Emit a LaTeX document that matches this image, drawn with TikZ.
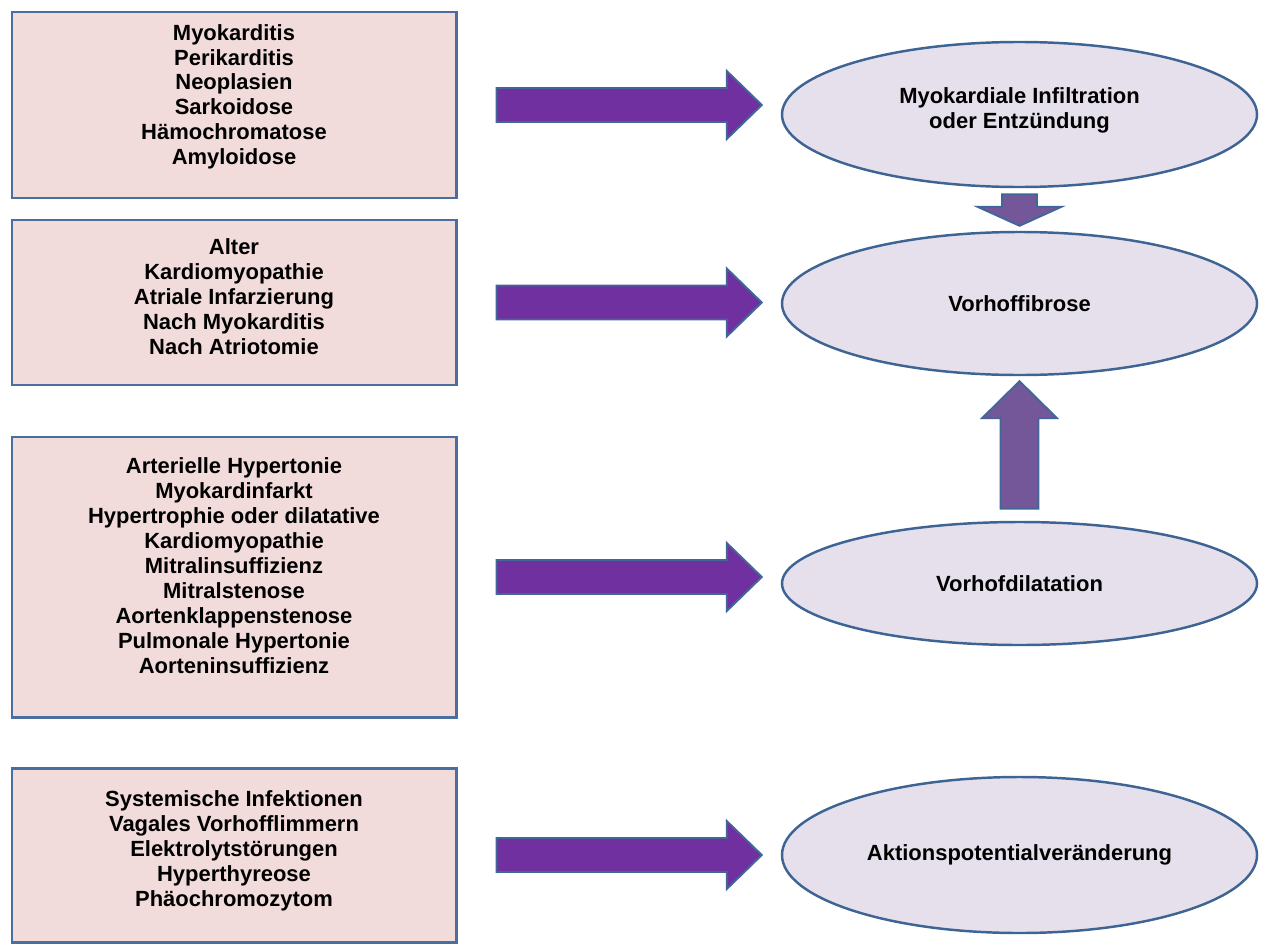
\documentclass[tikz,border=0pt]{standalone}
\usepackage{fontspec}
\setmainfont{Liberation Sans}
\usetikzlibrary{shapes.geometric,calc}
\definecolor{kastenrand}{HTML}{4A6EA0}
\definecolor{kastenfill}{HTML}{F2DCDB}
\definecolor{ovalrand}{HTML}{3E6494}
\definecolor{ovalfill}{HTML}{E6E0EC}
\definecolor{pfeilrand}{HTML}{41679A}
\definecolor{violett}{HTML}{7030A0}
\definecolor{lila}{HTML}{735799}
\newcommand\schrift{\fontsize{12.5}{14.2}\selectfont\bfseries}

\begin{document}
\begin{tikzpicture}
    [kasten/.style={rectangle, draw=kastenrand, line width=1.7pt, fill=kastenfill,
        minimum width=8.88cm, inner sep=0pt, align=center, font=\schrift},
     oval/.style={ellipse, draw=ovalrand, line width=1.4pt, fill=ovalfill,
        minimum width=9.5cm, inner sep=0pt, align=center, font=\schrift},
     schaft/.store in=\pfSchaft, kopf/.store in=\pfKopf, kopflang/.store in=\pfLang,
     pfeil/.style={draw=pfeilrand, line width=1.1pt, to path={
        ($(\tikztotarget)!\pfLang!(\tikztostart)$) coordinate (pk)
        ($(\tikztostart)!\pfSchaft!90:(\tikztotarget)$)
        -- ($(pk)!\pfSchaft!90:(\tikztotarget)$)
        -- ($(pk)!\pfKopf!90:(\tikztotarget)$)
        -- (\tikztotarget)
        -- ($(pk)!\pfKopf!-90:(\tikztotarget)$)
        -- ($(pk)!\pfSchaft!-90:(\tikztotarget)$)
        -- ($(\tikztostart)!\pfSchaft!-90:(\tikztotarget)$) -- cycle}},
     hpfeil/.style={pfeil, fill=violett, schaft=0.34cm, kopf=0.68cm, kopflang=0.70cm}]
    \useasboundingbox (0,0) rectangle (25.24,-18.88);

    % linke Spalte: Ursachen
    \node[kasten, minimum height=3.72cm, text depth=0.42cm] (ursachen1) at (4.68,-2.10)
        {Myokarditis\\Perikarditis\\Neoplasien\\Sarkoidose\\Hämochromatose\\Amyloidose};
    \node[kasten, minimum height=3.30cm, text depth=0.24cm] (ursachen2) at (4.68,-6.05)
        {Alter\\Kardiomyopathie\\Atriale Infarzierung\\Nach Myokarditis\\Nach Atriotomie};
    \node[kasten, minimum height=5.60cm, text depth=0.46cm] (ursachen3) at (4.68,-11.54)
        {Arterielle Hypertonie\\Myokardinfarkt\\Hypertrophie oder dilatative\\Kardiomyopathie\\Mitralinsuffizienz\\Mitralstenose\\Aortenklappenstenose\\Pulmonale Hypertonie\\Aorteninsuffizienz};
    \node[kasten, minimum height=3.48cm, text depth=0.26cm] (ursachen4) at (4.68,-17.10)
        {Systemische Infektionen\\Vagales Vorhofflimmern\\Elektrolytstörungen\\Hyperthyreose\\Phäochromozytom};

    % rechte Spalte: Folgen
    \node[oval, minimum height=2.90cm, text depth=0.26cm] (infiltration) at (20.39,-2.29)
        {Myokardiale Infiltration\\oder Entzündung};
    \node[oval, minimum height=2.86cm] (fibrose) at (20.39,-6.07) {Vorhoffibrose};
    \node[oval, minimum height=2.46cm] (dilatation) at (20.39,-11.67) {Vorhofdilatation};
    \node[oval, minimum height=3.12cm] (aktion) at (20.39,-17.10) {Aktionspotentialveränderung};

    \draw[hpfeil] ([xshift=0.78cm]ursachen1.east) to ([xshift=-0.38cm]infiltration.west |- ursachen1.east);
    \draw[hpfeil] ([xshift=0.78cm]ursachen2.east) to ([xshift=-0.38cm]fibrose.west |- ursachen2.east);
    \draw[hpfeil] ([xshift=0.78cm]ursachen3.east) to ([xshift=-0.38cm]dilatation.west |- ursachen3.east);
    \draw[hpfeil] ([xshift=0.78cm]ursachen4.east) to ([xshift=-0.38cm]aktion.west |- ursachen4.east);

    \draw[pfeil, fill=lila, schaft=0.35cm, kopf=0.84cm, kopflang=0.38cm]
        ([yshift=-0.12cm]infiltration.south) to ([yshift=0.10cm]fibrose.north);
    \draw[pfeil, fill=lila, schaft=0.38cm, kopf=0.75cm, kopflang=0.74cm]
        ([yshift=0.24cm]dilatation.north) to ([yshift=-0.10cm]fibrose.south);

\end{tikzpicture}
\end{document}
